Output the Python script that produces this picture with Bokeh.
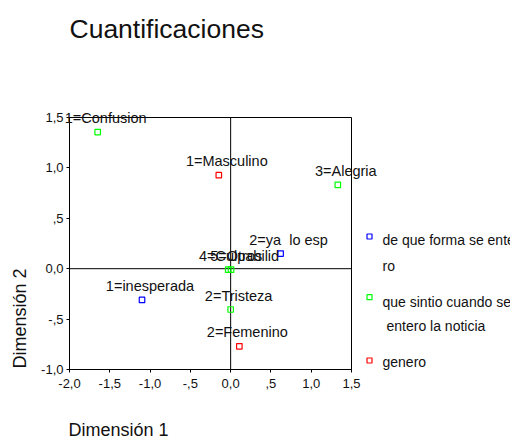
import math
from bokeh.plotting import figure
from bokeh.models import ColumnDataSource, LabelSet, FixedTicker, BoxAnnotation
from bokeh.embed import file_html
from bokeh.resources import INLINE
from bokeh.core.properties import value

# ---- data ----
title_text = "Cuantificaciones"
x_label = "Dimensión 1"
y_label = "Dimensión 2"

x_limits = (-2.0, 1.5)
y_limits = (-1.0, 1.5)
x_tick_values = [-2.0, -1.5, -1.0, -0.5, 0.0, 0.5, 1.0, 1.5]
x_tick_labels = ["-2,0", "-1,5", "-1,0", "-,5", "0,0", ",5", "1,0", "1,5"]
y_tick_values = [-1.0, -0.5, 0.0, 0.5, 1.0, 1.5]
y_tick_labels = ["-1,0", "-,5", "0,0", ",5", "1,0", "1,5"]

forma_labels = ["1=inesperada", "2=ya\u00a0 lo esp"]
forma_dim1 = [-1.10, 0.62]
forma_dim2 = [-0.31, 0.15]

sintio_labels = ["1=Confusion", "2=Tristeza", "3=Alegria", "4=Culpabilid", "5=Otros"]
sintio_dim1 = [-1.65, 0.0, 1.33, 0.005, -0.03]
sintio_dim2 = [1.355, -0.405, 0.832, -0.01, -0.01]

genero_labels = ["1=Masculino", "2=Femenino"]
genero_dim1 = [-0.147, 0.108]
genero_dim2 = [0.928, -0.77]

legend_lines = [["de que forma se ente", "ro"],
                ["que sintio cuando se", "entero la noticia"],
                ["genero"]]
series_colors = ["#0000ff", "#00ff00", "#ff0000"]

# ---- layout (canvas px, origin top-left) ----
W, H = 510, 439
BL, BB = 69, 369            # left / bottom edge of the plotting box
BOX_W_PX, BOX_H_PX = 282, 252
FONT = "Liberation Sans"
TXT = "#111111"

xppu = BOX_W_PX / (x_limits[1] - x_limits[0])
yppu = BOX_H_PX / (y_limits[1] - y_limits[0])
x_start = x_limits[0] - BL / xppu
x_end = x_limits[0] + (W - BL) / xppu
y_start = y_limits[0] - (H - BB) / yppu
y_end = y_limits[0] + BB / yppu

def px_x(cx):
    return x_start + cx / xppu

def px_y(cy):
    return y_end - cy / yppu

p = figure(width=W, height=H, x_range=(x_start, x_end), y_range=(y_start, y_end),
           output_backend="svg", toolbar_location=None,
           min_border_left=0, min_border_right=0, min_border_top=0, min_border_bottom=0)
p.title.visible = False
p.xgrid.visible = False
p.ygrid.visible = False
p.outline_line_color = None
p.background_fill_color = "white"
p.border_fill_color = "white"

for ax, vals, labs, lim, loc in ((p.xaxis[0], x_tick_values, x_tick_labels, x_limits, y_limits[0]),
                                 (p.yaxis[0], y_tick_values, y_tick_labels, y_limits, x_limits[0])):
    ax.fixed_location = loc
    ax.ticker = FixedTicker(ticks=vals)
    ax.major_label_overrides = {v: l for v, l in zip(vals, labs)}
    ax.bounds = lim
    ax.minor_tick_line_color = None
    ax.major_tick_in = 0
    ax.major_tick_out = 3
    ax.axis_line_color = "black"
    ax.major_tick_line_color = "black"
    ax.major_label_text_font = FONT
    ax.major_label_text_font_size = "13px"
    ax.major_label_text_color = TXT
p.xaxis.major_label_standoff = 6
p.yaxis.major_label_standoff = 3

# plotting box and reference lines through the origin
p.add_layout(BoxAnnotation(left=x_limits[0], right=x_limits[1], bottom=y_limits[0], top=y_limits[1],
                           fill_color=None, fill_alpha=0, line_color="black", line_alpha=1.0,
                           line_width=1))
p.segment(x0=[0, x_limits[0]], y0=[y_limits[0], 0], x1=[0, x_limits[1]], y1=[y_limits[1], 0],
          line_color="black", line_width=1)

groups = [(forma_dim1, forma_dim2, forma_labels),
          (sintio_dim1, sintio_dim2, sintio_labels),
          (genero_dim1, genero_dim2, genero_labels)]
for (xs, ys, labs), col in zip(groups, series_colors):
    src = ColumnDataSource(dict(x=xs, y=ys, t=labs))
    p.scatter("x", "y", source=src, marker="square", size=5.5,
              fill_color=None, line_color=col, line_width=1.2)
    p.add_layout(LabelSet(x="x", y="y", text="t", source=src, x_offset=8, y_offset=9,
                          text_align="center", text_baseline="alphabetic",
                          text_font=value(FONT), text_font_size=value("14.5px"),
                          text_color=value(TXT)))

def add_text(text, cx, cy, size, angle=0.0):
    src = ColumnDataSource(dict(x=[px_x(cx)], y=[px_y(cy)], t=[text]))
    p.add_layout(LabelSet(x="x", y="y", text="t", source=src, angle=angle,
                          text_align="left", text_baseline="alphabetic",
                          text_font=value(FONT), text_font_size=value(size),
                          text_color=value(TXT)))

# title and axis titles
add_text(title_text, 69, 37, "26.5px")
add_text(x_label, 68, 435, "18px")
add_text(y_label, 25, 368, "18px", angle=math.pi / 2)

# legend
marker_cy = [236, 296.7, 360]
text_base = [[244, 270], [306.7, 330], [366]]
text_left = [[382, 382], [382, 386], [382]]
for col, my, lines, bases, lefts in zip(series_colors, marker_cy, legend_lines, text_base, text_left):
    p.add_layout(BoxAnnotation(left=px_x(366.5), right=px_x(371.5), top=px_y(my - 2.5), bottom=px_y(my + 2.5),
                               fill_color=None, fill_alpha=0, line_color=col, line_alpha=1.0,
                               line_width=1.2))
    for ln, b, lx in zip(lines, bases, lefts):
        add_text(ln, lx, b, "14px")

open("out.html", "w").write(file_html(p, INLINE))
